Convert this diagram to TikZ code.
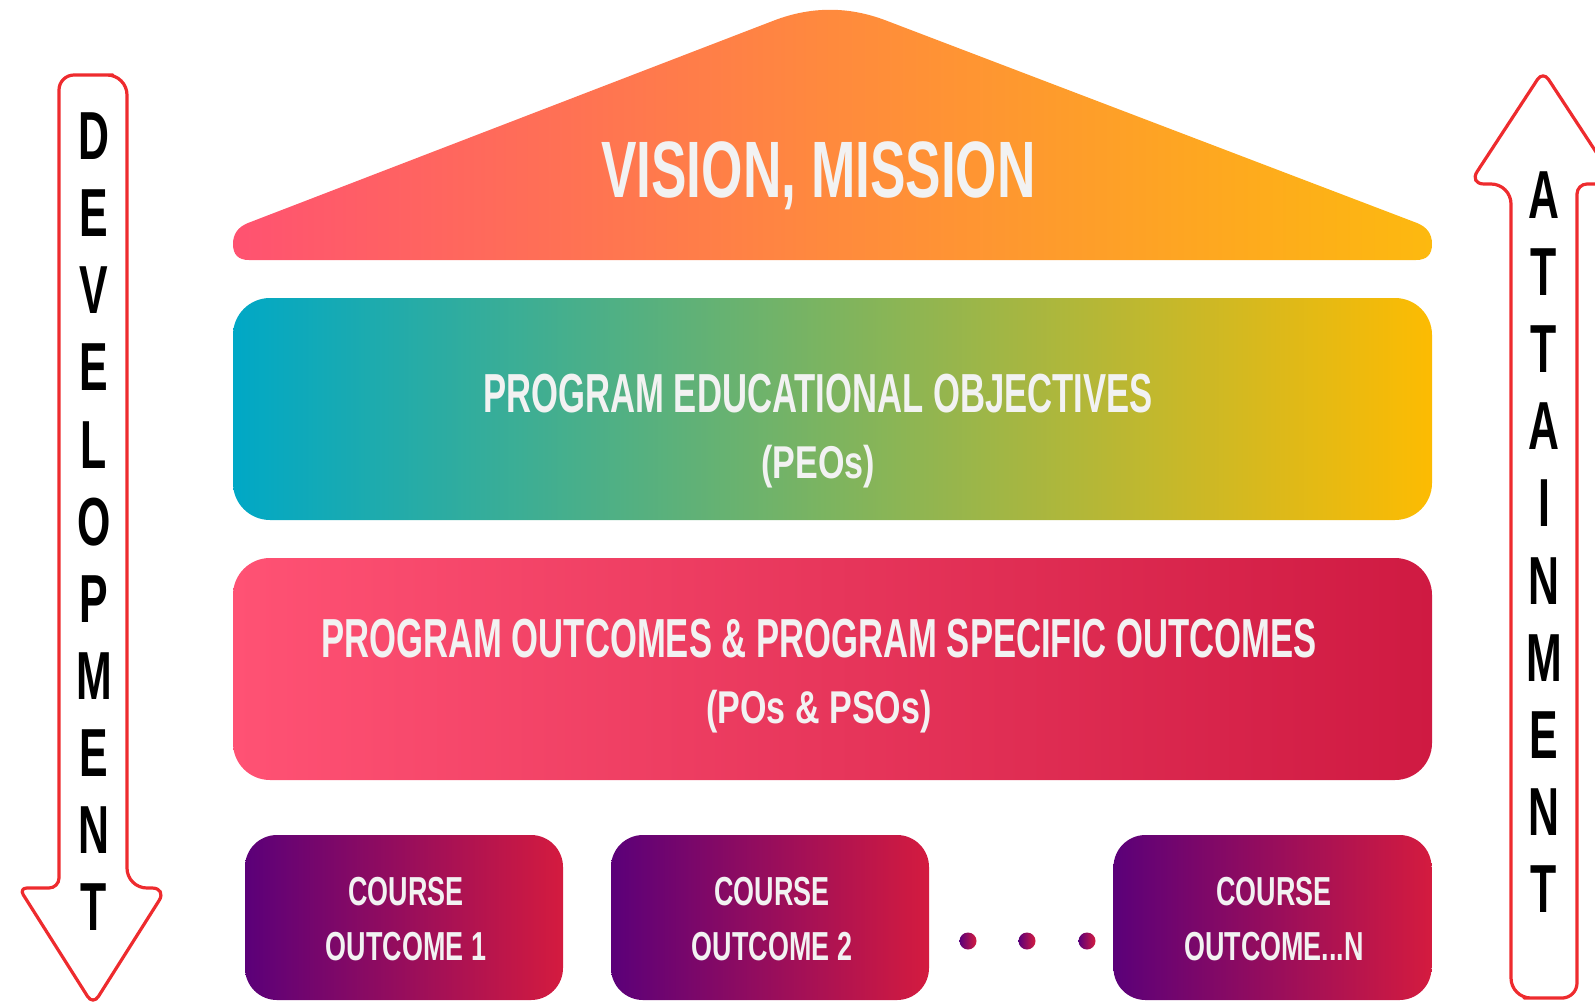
\documentclass[tikz,border=0pt]{standalone}
\usepackage{fontspec}
\newfontfamily\bebas{Liberation Sans}[FakeStretch=0.63]
\newfontfamily\bebasmid{Liberation Sans}[FakeStretch=0.665]
\newfontfamily\bebaswide{Liberation Sans}[FakeStretch=0.74]
\definecolor{roofL}{HTML}{FF5271}
\definecolor{roofM}{HTML}{FF8A3D}
\definecolor{roofR}{HTML}{FDB90F}
\definecolor{peoL}{HTML}{00A8C6}
\definecolor{peoM}{HTML}{7DB45F}
\definecolor{peoR}{HTML}{FDBB02}
\definecolor{poL}{HTML}{FF5274}
\definecolor{poR}{HTML}{CF1A42}
\definecolor{coL}{HTML}{5B0079}
\definecolor{coR}{HTML}{D41B3F}
\definecolor{arrowred}{HTML}{EE2B2E}
\definecolor{txtgray}{HTML}{F2F2F2}

\begin{document}
\begin{tikzpicture}[x=1pt,y=-1pt,
    band/.style={inner sep=0pt,minimum width=1199pt,minimum height=222pt,rounded corners=37pt},
    cobox/.style={inner sep=0pt,minimum width=318pt,minimum height=165pt,rounded corners=32pt,left color=coL,right color=coR},
    cdot/.style={circle,inner sep=0pt,minimum size=17pt,left color=coL,right color=coR},
    lbl/.style={anchor=base,inner sep=0pt,text=txtgray,font=\bebas\bfseries\fontsize{55}{55}\selectfont},
    sublbl/.style={lbl,font=\bebaswide\bfseries\fontsize{46}{46}\selectfont},
    colbl/.style={lbl,font=\bebasmid\bfseries\fontsize{40.5}{40.5}\selectfont},
    sidelbl/.style={anchor=base,inner sep=0pt,font=\bebas\bfseries\fontsize{68}{68}\selectfont},
    sidearrow/.style={draw=arrowred,line width=3.2pt,line join=round}]
    \useasboundingbox (0,0) rectangle (1595,1001);
    \clip (0,0) rectangle (1595,1001);

    \shade[left color=roofL,right color=roofR,middle color=roofM]
        (774,20.5) .. controls (811.3,6.2) and (848.7,6.2) .. (886,20.5) -- (1417,223)
        .. controls (1427,227) and (1432,234) .. (1432,244)
        .. controls (1432,254.7) and (1426.7,260) .. (1416,260)
        -- (249,260) .. controls (238.3,260) and (233,254.7) .. (233,244)
        .. controls (233,234) and (238,227) .. (248,223) -- cycle;
    \node[lbl,font=\bebasmid\bfseries\fontsize{80}{80}\selectfont] (vision) at (818.5,197) {VISION, MISSION};

    \node[band,left color=peoL,right color=peoR,middle color=peoM] (peo) at (832.5,409) {};
    \node[lbl] (peoA) at (818,412) {PROGRAM EDUCATIONAL OBJECTIVES};
    \node[sublbl] (peoB) at (818,478) {(PEOs)};

    \node[band,left color=poL,right color=poR] (po) at (832.5,669) {};
    \node[lbl] (poA) at (819,657) {PROGRAM OUTCOMES \& PROGRAM SPECIFIC OUTCOMES};
    \node[sublbl] (poB) at (819,723) {(POs \& PSOs)};

    \node[cobox] (co1) at (404,917.5) {};
    \node[colbl] (coA1) at (406,905) {COURSE};
    \node[colbl] (coB1) at (406,960) {OUTCOME 1};
    \node[cobox] (co2) at (770,917.5) {};
    \node[colbl] (coA2) at (772,905) {COURSE};
    \node[colbl] (coB2) at (772,960) {OUTCOME 2};
    \node[cobox] (co3) at (1272.5,917.5) {};
    \node[colbl] (coA3) at (1274,905) {COURSE};
    \node[colbl] (coB3) at (1274,960) {OUTCOME...N};

    \node[cdot] (dot1) at (968,941) {};
    \node[cdot] (dot2) at (1027,941) {};
    \node[cdot] (dot3) at (1087,941) {};

    \draw[sidearrow] (93,75) [rounded corners=20pt] -- (127,75) -- (127,888)
        [rounded corners=15pt] -- (167,888) [rounded corners=10pt] -- (93,1005)
        [rounded corners=8pt] -- (19,888) [rounded corners=10pt] -- (59,888)
        [rounded corners=15pt] -- (59,75) [rounded corners=20pt] -- cycle;
    \draw[sidearrow] (1544,998) [rounded corners=20pt] -- (1511,998) -- (1511,184)
        [rounded corners=15pt] -- (1469,184) [rounded corners=10pt] -- (1543,71)
        [rounded corners=8pt] -- (1617,184) [rounded corners=10pt] -- (1577,184)
        [rounded corners=15pt] -- (1577,998) [rounded corners=20pt] -- cycle;

    \node[sidelbl] (dev0) at (94,159) {D};
    \node[sidelbl] (dev1) at (94,236) {E};
    \node[sidelbl] (dev2) at (94,313) {V};
    \node[sidelbl] (dev3) at (94,390) {E};
    \node[sidelbl] (dev4) at (94,468) {L};
    \node[sidelbl] (dev5) at (94,545) {O};
    \node[sidelbl] (dev6) at (94,622) {P};
    \node[sidelbl] (dev7) at (94,699) {M};
    \node[sidelbl] (dev8) at (94,776) {E};
    \node[sidelbl] (dev9) at (94,853) {N};
    \node[sidelbl] (dev10) at (94,930) {T};

    \node[sidelbl] (att0) at (1544,218) {A};
    \node[sidelbl] (att1) at (1544,295) {T};
    \node[sidelbl] (att2) at (1544,372) {T};
    \node[sidelbl] (att3) at (1544,449) {A};
    \node[sidelbl] (att4) at (1544,526) {I};
    \node[sidelbl] (att5) at (1544,604) {N};
    \node[sidelbl] (att6) at (1544,681) {M};
    \node[sidelbl] (att7) at (1544,758) {E};
    \node[sidelbl] (att8) at (1544,835) {N};
    \node[sidelbl] (att9) at (1544,912) {T};
\end{tikzpicture}
\end{document}
